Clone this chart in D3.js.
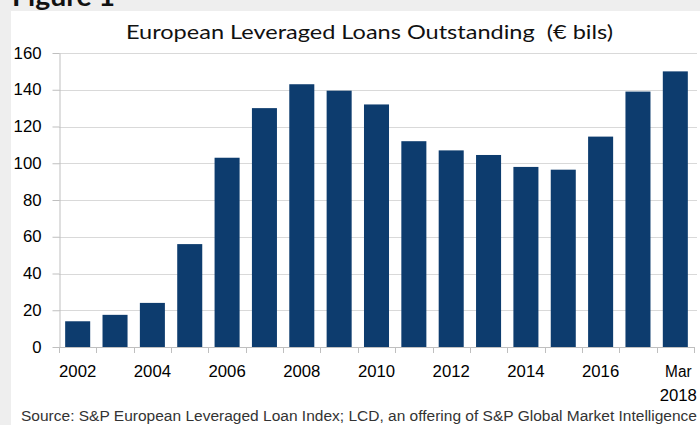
<!DOCTYPE html>
<html>
<head>
<meta charset="utf-8">
<script src="https://cdn.jsdelivr.net/npm/d3@7"></script>
<style>
  html, body { margin: 0; padding: 0; background: #eeeeee; }
  svg { display: block; }
</style>
</head>
<body>
<svg id="chart" width="700" height="425"></svg>
<script>
// Year-end outstanding European leveraged loans, € billions
const categories = ["2002","2003","2004","2005","2006","2007","2008","2009","2010",
                    "2011","2012","2013","2014","2015","2016","2017","Mar 2018"];
const outstanding = [14, 17.5, 24, 56, 103, 130, 143, 139.5, 132,
                     112, 107, 104.5, 98, 96.5, 114.5, 139, 150];
const yTicks = [0, 20, 40, 60, 80, 100, 120, 140, 160];
const labelledCategories = ["2002","2004","2006","2008","2010","2012","2014","2016","Mar 2018"];

const figureLabel = "Figure 1";
const titleText = "European Leveraged Loans Outstanding \u00a0(€ bils)";
const sourceText = "Source: S&P European Leveraged Loan Index; LCD, an offering of S&P Global Market Intelligence";

const svg = d3.select("#chart");
const W = 700, H = 425;
const plot = { left: 59, right: 694, top: 53, bottom: 347 };
const barColor = "#0d3c6e";
const tickFont = "'Liberation Sans', Arial, sans-serif";
const charW = 9.3; // wide-set digits of the axis labels

// background panel
svg.append("rect").attr("width", W).attr("height", H).attr("fill", "#eeeeee");
svg.append("rect").attr("x", 11).attr("y", 11).attr("width", W - 11).attr("height", H - 11)
  .attr("fill", "#ffffff");

// heading above the panel (runs off the top edge)
svg.append("text")
  .attr("x", 12).attr("y", 6)
  .attr("font-family", "Lato, 'Open Sans', sans-serif")
  .attr("font-weight", "bold")
  .attr("font-size", 26)
  .attr("textLength", 103)
  .attr("lengthAdjust", "spacingAndGlyphs")
  .attr("fill", "#111")
  .text(figureLabel);

// scales
const x = d3.scaleBand()
  .domain(categories)
  .range([plot.left, plot.right])
  .paddingInner(0.33)
  .paddingOuter(0.165);

const y = d3.scaleLinear()
  .domain([0, 160])
  .range([plot.bottom, plot.top]);

// gridlines
svg.append("g")
  .selectAll("line")
  .data(yTicks.filter(v => v > 0))
  .join("line")
  .attr("x1", plot.left).attr("x2", 697)
  .attr("y1", d => Math.round(y(d)) + 0.5).attr("y2", d => Math.round(y(d)) + 0.5)
  .attr("stroke", "#d9d9d9").attr("stroke-width", 1);

// bars
svg.append("g")
  .selectAll("rect")
  .data(categories.map((c, i) => ({ c, v: outstanding[i] })))
  .join("rect")
  .attr("x", d => x(d.c))
  .attr("width", x.bandwidth())
  .attr("y", d => y(d.v))
  .attr("height", d => y(0) - y(d.v))
  .attr("fill", barColor);

// y axis
const yAxis = svg.append("g")
  .attr("transform", `translate(${plot.left + 0.5},0)`)
  .call(d3.axisLeft(y).tickValues(yTicks).tickSize(7).tickPadding(11).tickSizeOuter(0));
yAxis.select(".domain").attr("stroke", "#bfbfbf");
yAxis.selectAll(".tick line").attr("stroke", "#bfbfbf");
yAxis.selectAll(".tick text")
  .attr("font-family", tickFont)
  .attr("font-size", 16)
  .attr("fill", "#000")
  .attr("textLength", d => String(d).length * charW)
  .attr("lengthAdjust", "spacingAndGlyphs");

// x axis baseline and category boundary ticks
const step = x.step();
const boundaries = categories.map(c => x(c) - step * x.paddingInner() / 2).concat([plot.right]);
const xg = svg.append("g");
xg.append("line")
  .attr("x1", plot.left).attr("x2", plot.right)
  .attr("y1", plot.bottom + 0.5).attr("y2", plot.bottom + 0.5)
  .attr("stroke", "#bfbfbf");
xg.selectAll("line.tk")
  .data(boundaries)
  .join("line")
  .attr("class", "tk")
  .attr("x1", d => Math.round(d) + 0.5).attr("x2", d => Math.round(d) + 0.5)
  .attr("y1", plot.bottom).attr("y2", plot.bottom + 6)
  .attr("stroke", "#bfbfbf");

// x labels (every other year, two lines for the last)
xg.selectAll("text")
  .data(labelledCategories)
  .join("text")
  .attr("y", 377)
  .attr("text-anchor", "middle")
  .attr("font-family", tickFont)
  .attr("font-size", 16)
  .attr("fill", "#000")
  .each(function (d) {
    const parts = d.split(" ");
    const t = d3.select(this);
    const cx = x(d) + x.bandwidth() / 2 + (parts.length > 1 ? 3 : 0);
    parts.forEach((p, i) => {
      t.append("tspan")
        .attr("x", cx)
        .attr("dy", i === 0 ? 0 : 24)
        .attr("textLength", p.length * charW * (/^\d+$/.test(p) ? 1 : 0.95))
        .attr("lengthAdjust", "spacingAndGlyphs")
        .text(p);
    });
  });

// title
svg.append("text")
  .attr("x", 126).attr("y", 39)
  .attr("font-family", "Lato, 'Open Sans', sans-serif")
  .attr("font-size", 19)
  .attr("textLength", 487)
  .attr("lengthAdjust", "spacingAndGlyphs")
  .attr("fill", "#111")
  .text(titleText);

// source note
svg.append("text")
  .attr("x", 21).attr("y", 421)
  .attr("font-family", tickFont)
  .attr("font-size", 14)
  .attr("textLength", 676)
  .attr("lengthAdjust", "spacingAndGlyphs")
  .attr("fill", "#333")
  .text(sourceText);
</script>
</body>
</html>
